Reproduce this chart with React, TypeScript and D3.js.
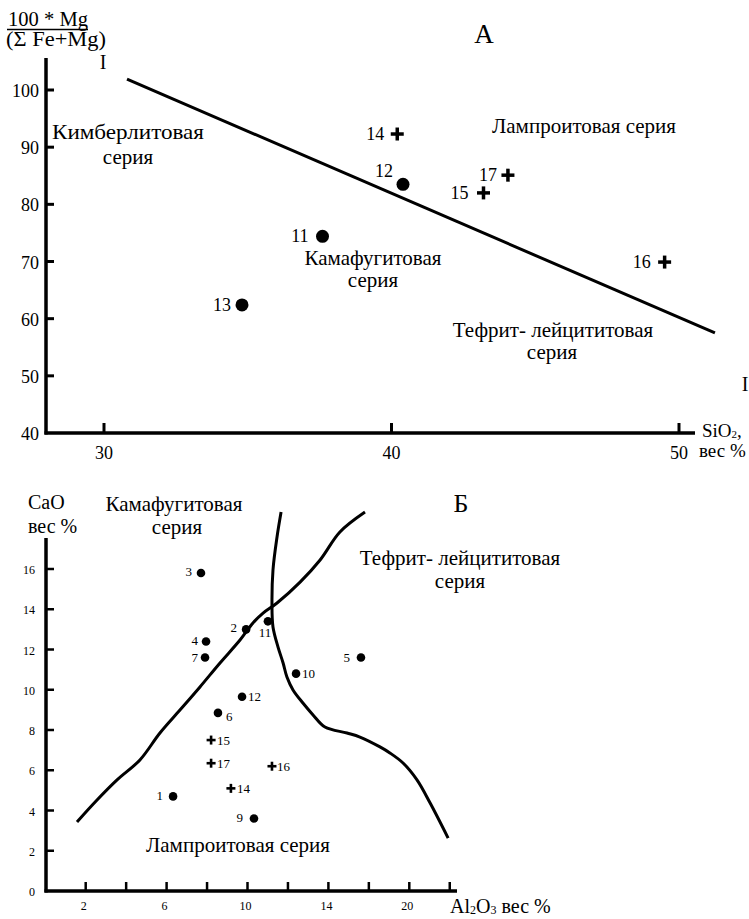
import React from "react";
import { scaleLinear, line, curveCatmullRom } from "d3";

// ---- chart A data (SiO2 vs 100*Mg/(Fe+Mg)) ----
const aDotIds = ["11", "12", "13"];
const aDotSiO2 = [37.6, 40.4, 34.8];
const aDotMg = [74.4, 83.5, 62.4];

const aCrossIds = ["14", "15", "16", "17"];
const aCrossSiO2 = [40.2, 43.2, 49.5, 44.05];
const aCrossMg = [92.3, 82.0, 69.9, 85.1];

// boundary I–I
const aBoundSiO2 = [30.8, 51.25];
const aBoundMg = [101.9, 57.5];

const aXTicks = [30, 40, 50];
const aYTicks = [40, 50, 60, 70, 80, 90, 100];

// ---- chart Б data (Al2O3 vs CaO) ----
const bDotIds = ["1", "2", "3", "4", "5", "6", "7", "9", "10", "11", "12"];
const bDotAl = [6.32, 9.93, 7.7, 7.95, 15.61, 8.54, 7.9, 10.32, 12.4, 11.01, 9.73];
const bDotCa = [4.7, 13.0, 15.8, 12.4, 11.6, 8.85, 11.6, 3.6, 10.8, 13.4, 9.65];

const bCrossIds = ["14", "15", "16", "17"];
const bCrossAl = [9.18, 8.2, 11.21, 8.2];
const bCrossCa = [5.1, 7.5, 6.2, 6.35];

const bCurve1Al = [1.57, 2.56, 3.55, 4.68, 5.67, 6.66, 7.65, 8.64, 9.63, 10.27, 10.77, 11.46, 12.6, 13.59, 14.57, 15.81];
const bCurve1Ca = [3.43, 4.52, 5.52, 6.51, 7.85, 8.99, 10.14, 11.33, 12.47, 13.32, 13.81, 14.31, 15.35, 16.45, 17.84, 18.83];

const bCurve2Al = [11.66, 11.46, 11.26, 11.21, 11.26, 11.51, 11.76, 11.95, 12.25, 12.74, 13.24, 13.83, 14.92, 15.56, 16.55, 17.04, 17.69, 18.38, 19.03, 19.92];
const bCurve2Ca = [18.83, 17.59, 15.95, 14.31, 13.12, 12.12, 11.33, 10.63, 9.99, 9.34, 8.75, 8.15, 7.85, 7.65, 7.16, 6.86, 6.36, 5.52, 4.37, 2.63];

const bXTicks = [2, 4, 6, 8, 10, 12, 14, 16, 18, 20];
const bXTickLabels = ["2", "", "6", "", "10", "", "14", "", "20", ""];
const bYTicks = [0, 2, 4, 6, 8, 10, 12, 14, 16];

const FONT = "'Liberation Serif', 'Times New Roman', serif";
const REG = 21; // region label size

// label offsets (dx, dy, anchor) for point numbers
const aLabelPos: Record<string, [number, number, string]> = {
  "11": [-14, 6, "end"],
  "12": [-10, -7, "end"],
  "13": [-11, 6, "end"],
  "14": [-13, 6, "end"],
  "15": [-15, 6, "end"],
  "16": [-14, 6, "end"],
  "17": [-11, 6, "end"],
};
const bLabelPos: Record<string, [number, number, string]> = {
  "1": [-10, 4, "end"],
  "2": [-9, 3, "end"],
  "3": [-9, 3, "end"],
  "4": [-8, 4, "end"],
  "5": [-11, 4, "end"],
  "6": [8, 8, "start"],
  "7": [-7, 4, "end"],
  "9": [-11, 3, "end"],
  "10": [6, 4, "start"],
  "11": [-3, 16, "middle"],
  "12": [6, 4, "start"],
  "14": [6, 5, "start"],
  "15": [6, 5, "start"],
  "16": [5, 5, "start"],
  "17": [6, 5, "start"],
};

const Cross = ({ x, y, s, w }: { x: number; y: number; s: number; w: number }) => (
  <g stroke="#000" strokeWidth={w}>
    <line x1={x - s} x2={x + s} y1={y} y2={y} />
    <line x1={x} x2={x} y1={y - s} y2={y + s} />
  </g>
);

const App = () => {
  // chart A scales
  const ax = scaleLinear().domain([30, 50]).range([104, 679]);
  const ay = scaleLinear().domain([40, 100]).range([433, 90]);
  const aLeft = 46, aBottom = 433, aTop = 58, aRight = 695;

  // chart Б scales
  const bx = scaleLinear().domain([2, 18]).range([85.7, 409.3]);
  const by = scaleLinear().domain([0, 16]).range([891, 569]);
  const bLeft = 46, bBottom = 891, bTop = 538, bRight = 457;

  const boundA = line<number>()
    .x((d, i) => ax(aBoundSiO2[i]))
    .y((d, i) => ay(aBoundMg[i]));

  const curve1 = line<number>()
    .x((d, i) => bx(bCurve1Al[i]))
    .y((d, i) => by(bCurve1Ca[i]))
    .curve(curveCatmullRom);
  const curve2 = line<number>()
    .x((d, i) => bx(bCurve2Al[i]))
    .y((d, i) => by(bCurve2Ca[i]))
    .curve(curveCatmullRom);

  return (
    <svg width={749} height={919} style={{ position: "absolute", left: 0, top: 0, background: "#fff" }} fontFamily={FONT}>
      {/* ================= chart A ================= */}
      <text x={8} y={26} fontSize={20.5} textLength={80} lengthAdjust="spacingAndGlyphs">100 * Mg</text>
      <line x1={7} x2={88} y1={29.5} y2={29.5} stroke="#000" strokeWidth={1.3} />
      <text x={6} y={46} fontSize={20.5} textLength={100} lengthAdjust="spacingAndGlyphs">(Σ Fe+Mg)</text>
      <text x={484} y={43} fontSize={27} textAnchor="middle">А</text>

      <line x1={aLeft} x2={aLeft} y1={aTop} y2={aBottom + 1.5} stroke="#000" strokeWidth={3.5} />
      <line x1={aLeft - 1.5} x2={aRight} y1={aBottom} y2={aBottom} stroke="#000" strokeWidth={3.5} />
      {aYTicks.map((t) => (
        <g key={"ay" + t}>
          {t > 40 && <line x1={aLeft} x2={aLeft + 8} y1={ay(t)} y2={ay(t)} stroke="#000" strokeWidth={3} />}
          <text x={39} y={ay(t) + 7} fontSize={18} textAnchor="end">{t}</text>
        </g>
      ))}
      {aXTicks.map((t) => (
        <g key={"ax" + t}>
          <line x1={ax(t)} x2={ax(t)} y1={aBottom} y2={aBottom - 10} stroke="#000" strokeWidth={3} />
          <text x={ax(t)} y={459} fontSize={18} textAnchor="middle">{t}</text>
        </g>
      ))}
      <text x={702} y={437} fontSize={19}>
        SiO<tspan fontSize={11} dy={1}>2</tspan><tspan dy={-1}>,</tspan>
      </text>
      <text x={699} y={457} fontSize={19}>вес %</text>

      <path d={boundA(aBoundSiO2) || ""} stroke="#000" strokeWidth={3} fill="none" />
      <text x={103} y={69} fontSize={20} textAnchor="middle">I</text>
      <text x={745} y={391} fontSize={20} textAnchor="middle">I</text>

      <text x={128} y={139} fontSize={REG} textAnchor="middle" textLength={152} lengthAdjust="spacingAndGlyphs">Кимберлитовая</text>
      <text x={128} y={164} fontSize={REG} textAnchor="middle">серия</text>
      <text x={584} y={133} fontSize={REG} textAnchor="middle">Лампроитовая серия</text>
      <text x={373} y={265} fontSize={REG} textAnchor="middle">Камафугитовая</text>
      <text x={373} y={287} fontSize={REG} textAnchor="middle">серия</text>
      <text x={553} y={337} fontSize={REG} textAnchor="middle">Тефрит- лейцититовая</text>
      <text x={552} y={359} fontSize={REG} textAnchor="middle">серия</text>

      {aDotIds.map((id, i) => {
        const [dx, dy, anc] = aLabelPos[id];
        return (
          <g key={"ad" + id}>
            <circle cx={ax(aDotSiO2[i])} cy={ay(aDotMg[i])} r={6.5} fill="#000" />
            <text x={ax(aDotSiO2[i]) + dx} y={ay(aDotMg[i]) + dy} fontSize={18} textAnchor={anc as any}>{id}</text>
          </g>
        );
      })}
      {aCrossIds.map((id, i) => {
        const [dx, dy, anc] = aLabelPos[id];
        return (
          <g key={"ac" + id}>
            <Cross x={ax(aCrossSiO2[i])} y={ay(aCrossMg[i])} s={6.5} w={3.5} />
            <text x={ax(aCrossSiO2[i]) + dx} y={ay(aCrossMg[i]) + dy} fontSize={18} textAnchor={anc as any}>{id}</text>
          </g>
        );
      })}

      {/* ================= chart Б ================= */}
      <text x={461} y={512} fontSize={26} textAnchor="middle">Б</text>
      <text x={28} y={509} fontSize={20}>CaO</text>
      <text x={28} y={533} fontSize={20}>вес %</text>

      <line x1={bLeft} x2={bLeft} y1={bTop} y2={bBottom + 1.5} stroke="#000" strokeWidth={3.5} />
      <line x1={bLeft - 1.5} x2={bRight} y1={bBottom} y2={bBottom} stroke="#000" strokeWidth={3.5} />
      {bYTicks.map((t) => (
        <g key={"by" + t}>
          {t > 0 && <line x1={bLeft} x2={bLeft + 8} y1={by(t)} y2={by(t)} stroke="#000" strokeWidth={2.5} />}
          <text x={35} y={by(t) + 5} fontSize={12} textAnchor="end">{t}</text>
        </g>
      ))}
      {bXTicks.map((t, i) => (
        <g key={"bx" + t}>
          <line x1={bx(t)} x2={bx(t)} y1={bBottom} y2={bBottom - 9} stroke="#000" strokeWidth={2.5} />
          {bXTickLabels[i] && (
            <text x={bx(t) - 2} y={910} fontSize={12} textAnchor="middle">{bXTickLabels[i]}</text>
          )}
        </g>
      ))}
      <text x={450} y={913} fontSize={20}>
        Al<tspan fontSize={12} dy={1}>2</tspan><tspan dy={-1}>O</tspan><tspan fontSize={12} dy={1}>3</tspan><tspan dy={-1}> вес %</tspan>
      </text>

      <path d={curve1(bCurve1Al) || ""} stroke="#000" strokeWidth={3} fill="none" />
      <path d={curve2(bCurve2Al) || ""} stroke="#000" strokeWidth={3} fill="none" />

      <text x={174} y={511} fontSize={REG} textAnchor="middle">Камафугитовая</text>
      <text x={177} y={534} fontSize={REG} textAnchor="middle">серия</text>
      <text x={460} y={565} fontSize={REG} textAnchor="middle">Тефрит- лейцититовая</text>
      <text x={460} y={588} fontSize={REG} textAnchor="middle">серия</text>
      <text x={238} y={852} fontSize={REG} textAnchor="middle">Лампроитовая серия</text>

      {bDotIds.map((id, i) => {
        const [dx, dy, anc] = bLabelPos[id];
        return (
          <g key={"bd" + id}>
            <circle cx={bx(bDotAl[i])} cy={by(bDotCa[i])} r={4.3} fill="#000" />
            <text x={bx(bDotAl[i]) + dx} y={by(bDotCa[i]) + dy} fontSize={13} textAnchor={anc as any}>{id}</text>
          </g>
        );
      })}
      {bCrossIds.map((id, i) => {
        const [dx, dy, anc] = bLabelPos[id];
        return (
          <g key={"bc" + id}>
            <Cross x={bx(bCrossAl[i])} y={by(bCrossCa[i])} s={4.5} w={2.6} />
            <text x={bx(bCrossAl[i]) + dx} y={by(bCrossCa[i]) + dy} fontSize={13} textAnchor={anc as any}>{id}</text>
          </g>
        );
      })}
    </svg>
  );
};

export default App;
